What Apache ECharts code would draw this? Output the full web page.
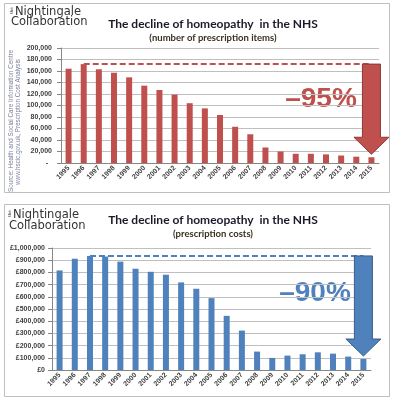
<!DOCTYPE html>
<html><head><meta charset="utf-8">
<script src="https://cdn.jsdelivr.net/npm/echarts@6/dist/echarts.min.js"></script>
<style>html,body{margin:0;padding:0;background:#fff}#c{width:394px;height:400px}</style>
</head><body><div id="c"></div>
<script>
const years = ['1995','1996','1997','1998','1999','2000','2001','2002','2003','2004','2005','2006','2007','2008','2009','2010','2011','2012','2013','2014','2015'];
const items = [164000,172000,163000,157000,149000,134500,127000,119000,104000,95000,83500,63000,50000,27000,20000,16000,16000,15000,13000,11000,10000];
const costs = [816000,912000,935000,930000,888000,830000,805000,781000,718000,666000,589000,444000,323000,151000,99000,118000,129000,145000,134000,110000,90000];
const titleText = 'The decline of homeopathy  in the NHS';
const subtitleItems = '(number of prescription items)';
const subtitleCosts = '(prescription costs)';
const pctItems = '\u201395%';
const pctCosts = '\u201390%';
const sourceLine1 = 'Source: Health and Social Care Information Centre';
const sourceLine2 = 'www.hscic.gov.uk, Prescription Cost Analysis';

const RED = '#C0504D', RED_D = '#8C3836', BLUE = '#4F81BD', BLUE_D = '#385D8A';
const chart = echarts.init(document.getElementById('c'), null, {renderer: 'canvas'});
const labelStyle = {color: '#404040', fontSize: 7, fontWeight: 'bold', fontFamily: 'Liberation Sans'};
const fmtNum = v => v === 0 ? '-  ' : v.toLocaleString('en-US');
const fmtGBP = v => '\u00A3' + v.toLocaleString('en-GB');

function xAx(g) {
  return {gridIndex: g, type: 'category', data: years,
    axisLine: {lineStyle: {color: '#868686'}},
    axisTick: {length: 3, lineStyle: {color: '#868686'}},
    axisLabel: Object.assign({interval: 0, rotate: 45, margin: 4}, labelStyle)};
}
function yAx(g, max, interval, fmt, margin) {
  return {gridIndex: g, type: 'value', min: 0, max: max, interval: interval,
    axisLine: {show: true, lineStyle: {color: '#868686'}},
    axisTick: {show: true, length: 4, lineStyle: {color: '#868686'}},
    splitLine: {lineStyle: {color: '#BFBFBF'}},
    axisLabel: Object.assign({formatter: fmt, margin: margin}, labelStyle)};
}
function maxIdx(arr) { let m = 0; arr.forEach((v, i) => { if (v > arr[m]) m = i; }); return m; }

const iMax = maxIdx(items), cMax = maxIdx(costs);

function txt(id, x, y, text, font, fill, opts) {
  opts = opts || {};
  return {type: 'text', id: id, x: x, y: y, silent: true, rotation: opts.rotation || 0,
    style: Object.assign({text: text, font: font, fill: fill, align: opts.align || 'center', verticalAlign: 'middle'}, opts.style || {})};
}
const LOGO = '11.5px "DejaVu Sans"';
const pctStyle = {stroke: '#fff', lineWidth: 2, shadowColor: 'rgba(0,0,0,0.35)', shadowBlur: 2, shadowOffsetX: 1, shadowOffsetY: 1};

const graphics = [
  {type: 'rect', id: 'b1', shape: {x: 4.5, y: 3.5, width: 385, height: 189}, style: {fill: 'none', stroke: '#BFBFBF', lineWidth: 1}, silent: true},
  {type: 'rect', id: 'b2', shape: {x: 4.5, y: 204.5, width: 385, height: 192}, style: {fill: 'none', stroke: '#BFBFBF', lineWidth: 1}, silent: true},
  // logos
  txt('l1a', 15, 12, 'Nightingale', LOGO, '#333', {align: 'left'}),
  txt('l1b', 11, 22, 'Collaboration', LOGO, '#333', {align: 'left'}),
  txt('l1c', 12, 10.5, 'the', '4px "DejaVu Sans"', '#333', {rotation: Math.PI / 2}),
  txt('l2a', 13, 215, 'Nightingale', LOGO, '#333', {align: 'left'}),
  txt('l2b', 9, 226, 'Collaboration', LOGO, '#333', {align: 'left'}),
  txt('l2c', 10, 213.5, 'the', '4px "DejaVu Sans"', '#333', {rotation: Math.PI / 2}),
  // titles
  txt('t1', 213, 24, titleText, 'bold 12px Lato', '#1a1a2a'),
  txt('s1', 213, 38, subtitleItems, 'bold 9.5px Lato', '#3a3020'),
  txt('t2', 213, 220, titleText, 'bold 12px Lato', '#1a1a2a'),
  txt('s2', 213, 234, subtitleCosts, 'bold 9.5px Lato', '#3a3020'),
  // source
  txt('src1', 11, 121, sourceLine1, '6.3px "Liberation Sans"', '#7a7f99', {rotation: Math.PI / 2}),
  txt('src2', 18, 122, sourceLine2, '6.3px "Liberation Sans"', '#7a7f99', {rotation: Math.PI / 2}),
  // percentages
  txt('p1', 321, 99, pctItems, 'bold 28px "Liberation Sans"', RED, {style: pctStyle}),
  txt('p2', 315, 293, pctCosts, 'bold 28px "Liberation Sans"', BLUE, {style: pctStyle})
];

const option = {
  animation: false,
  grid: [
    {left: 61, right: 15, top: 48, bottom: 237},
    {left: 52, right: 23, top: 248, bottom: 30}
  ],
  xAxis: [xAx(0), xAx(1)],
  yAxis: [yAx(0, 200000, 20000, fmtNum, 9), yAx(1, 1000000, 100000, fmtGBP, 7)],
  series: [
    {type: 'bar', xAxisIndex: 0, yAxisIndex: 0, data: items, barWidth: 6, itemStyle: {color: RED},
      markLine: {silent: true, symbol: 'none', label: {show: false},
        lineStyle: {color: RED, type: [6, 3], width: 2},
        data: [[{coord: [iMax, items[iMax]]}, {coord: [years.length - 1, items[iMax]]}]]}},
    {type: 'bar', xAxisIndex: 1, yAxisIndex: 1, data: costs, barWidth: 6, itemStyle: {color: BLUE},
      markLine: {silent: true, symbol: 'none', label: {show: false},
        lineStyle: {color: BLUE, type: [6, 3], width: 2},
        data: [[{coord: [cMax, costs[cMax]]}, {coord: [years.length - 1, costs[cMax]]}]]}}
  ],
  graphic: graphics
};
chart.setOption(option);

function arrow(id, g, data, mi, fill, stroke) {
  const last = data.length - 1;
  const top = chart.convertToPixel({gridIndex: g}, [last, data[mi]]);
  const bot = chart.convertToPixel({gridIndex: g}, [last, data[last]]);
  const cx = top[0], y0 = top[1], tip = bot[1] - 3;
  const sw = 9, hw = 17.5, hh = 17;
  return {type: 'polygon', id: id, silent: true, z: 100,
    shape: {points: [[cx - sw, y0], [cx + sw, y0], [cx + sw, tip - hh], [cx + hw, tip - hh], [cx, tip], [cx - hw, tip - hh], [cx - sw, tip - hh]]},
    style: {fill: fill, stroke: stroke, lineWidth: 1}};
}
chart.setOption({graphic: [arrow('a1', 0, items, iMax, RED, RED_D), arrow('a2', 1, costs, cMax, BLUE, BLUE_D)]});
</script></body></html>
